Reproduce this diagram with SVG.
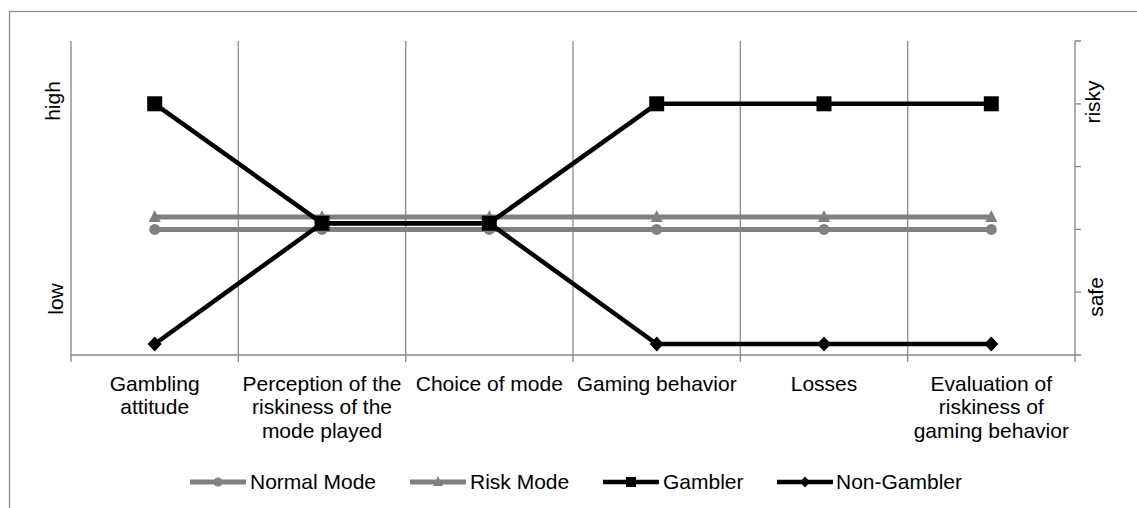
<svg xmlns="http://www.w3.org/2000/svg" width="1137" height="508" viewBox="0 0 1137 508">
<style>
text{font-family:"Liberation Sans",Arial,sans-serif;font-size:21px;fill:#000}
.mid{text-anchor:middle}
.grid{stroke:#8c8c8c;stroke-width:1.3;fill:none}
.axis{stroke:#868686;stroke-width:1.3;fill:none}
.gl{stroke:#808080;stroke-width:5;fill:none;stroke-linejoin:round}
.bl{stroke:#000;stroke-width:4.5;fill:none;stroke-linejoin:round}
.gm{fill:#808080}
.bm{fill:#000}
</style>
<defs>
<circle id="circ" r="5.5"/>
<path id="tri" d="M0,-7 L6,5 L-6,5 Z"/>
<rect id="sq" x="-7.5" y="-7.5" width="15" height="15"/>
<path id="dia" d="M0,-7.5 L7,0 L0,7.5 L-7,0 Z"/>
<circle id="lcirc" r="4.5"/>
<path id="ltri" d="M0,-6 L5,4 L-5,4 Z"/>
<rect id="lsq" x="-5" y="-5" width="10" height="10"/>
<path id="ldia" d="M0,-5.5 L5,0 L0,5.5 L-5,0 Z"/>
</defs>
<rect id="frame" x="9.5" y="11.5" width="1140" height="510" fill="#fff" stroke="#8c8c8c" stroke-width="1.3"/>
<g id="gridlines">
<path class="grid" d="M238.3,41V355M405.7,41V355M573,41V355M740.3,41V355M907.7,41V355"/>
</g>
<g id="axes">
<path class="axis" d="M71,41V355H1075M1075,41V355"/>
<path class="axis" d="M71,355V362M238.3,355V362M405.7,355V362M573,355V362M740.3,355V362M907.7,355V362M1075,355V362"/>
<path class="axis" d="M1075,41H1081M1075,103.8H1081M1075,166.6H1081M1075,229.4H1081M1075,292.2H1081M1075,355H1081"/>
</g>
<g id="axis-labels">
<text class="mid" transform="translate(60,101) rotate(-90)">high</text>
<text class="mid" transform="translate(63,299) rotate(-90)">low</text>
<text class="mid" transform="translate(1100,102) rotate(-90)">risky</text>
<text class="mid" transform="translate(1103,297) rotate(-90)">safe</text>
</g>
<g id="category-labels">
<text class="mid" x="154.7" y="391">Gambling</text>
<text class="mid" x="154.7" y="414.3">attitude</text>
<text class="mid" x="322" y="391">Perception of the</text>
<text class="mid" x="322" y="414.3">riskiness of the</text>
<text class="mid" x="322" y="437.6">mode played</text>
<text class="mid" x="489.3" y="391">Choice of mode</text>
<text class="mid" x="656.7" y="391">Gaming behavior</text>
<text class="mid" x="824" y="391">Losses</text>
<text class="mid" x="991.3" y="391">Evaluation of</text>
<text class="mid" x="991.3" y="414.3">riskiness of</text>
<text class="mid" x="991.3" y="437.6">gaming behavior</text>
</g>
<g id="connectors">
<path id="line-normal" class="gl" d="M154.7,229.4H991.3"/>
<path id="line-risk" class="gl" d="M154.7,217H991.3"/>
<path id="line-gambler" class="bl" d="M154.7,103.8L322,223.2L489.3,223.2L656.7,103.8L991.3,103.8"/>
<path id="line-nongambler" class="bl" d="M154.7,344L322,223.2L489.3,223.2L656.7,344L991.3,344"/>
</g>
<g id="series-normal" class="gm">
<use href="#circ" x="154.7" y="229.4"/><use href="#circ" x="322" y="229.4"/><use href="#circ" x="489.3" y="229.4"/><use href="#circ" x="656.7" y="229.4"/><use href="#circ" x="824" y="229.4"/><use href="#circ" x="991.3" y="229.4"/>
</g>
<g id="series-risk" class="gm">
<use href="#tri" x="154.7" y="217"/><use href="#tri" x="322" y="217"/><use href="#tri" x="489.3" y="217"/><use href="#tri" x="656.7" y="217"/><use href="#tri" x="824" y="217"/><use href="#tri" x="991.3" y="217"/>
</g>
<g id="series-gambler" class="bm">
<use href="#sq" x="154.7" y="103.8"/><use href="#sq" x="322" y="223.2"/><use href="#sq" x="489.3" y="223.2"/><use href="#sq" x="656.7" y="103.8"/><use href="#sq" x="824" y="103.8"/><use href="#sq" x="991.3" y="103.8"/>
</g>
<g id="series-nongambler" class="bm">
<use href="#dia" x="154.7" y="344"/><use href="#dia" x="322" y="223.2"/><use href="#dia" x="489.3" y="223.2"/><use href="#dia" x="656.7" y="344"/><use href="#dia" x="824" y="344"/><use href="#dia" x="991.3" y="344"/>
</g>
<g id="legend">
<g id="legend-normal"><path class="gl" d="M190,482H246"/><use href="#lcirc" x="218" y="482" class="gm"/><text x="250" y="489">Normal Mode</text></g>
<g id="legend-risk"><path class="gl" d="M410,482H466"/><use href="#ltri" x="438" y="482" class="gm"/><text x="470" y="489">Risk Mode</text></g>
<g id="legend-gambler"><path class="bl" d="M603,482H659"/><use href="#lsq" x="631" y="482" class="bm"/><text x="663" y="489">Gambler</text></g>
<g id="legend-nongambler"><path class="bl" d="M777,482H833"/><use href="#ldia" x="805" y="482" class="bm"/><text x="836" y="489">Non-Gambler</text></g>
</g>
</svg>
